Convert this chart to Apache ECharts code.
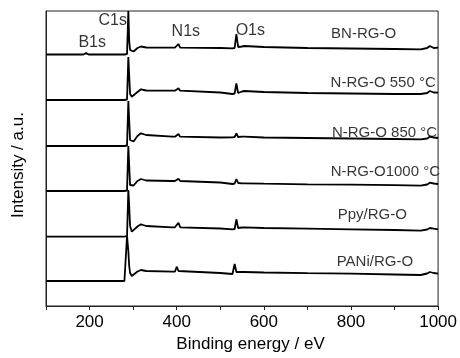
<!DOCTYPE html>
<html>
<head>
<meta charset="utf-8">
<script src="https://cdn.jsdelivr.net/npm/echarts@6/dist/echarts.min.js"></script>
<style>
  html, body { margin: 0; padding: 0; background: #fff; }
  #chart { width: 460px; height: 358px; }
</style>
</head>
<body>
<div id="chart"></div>
<script>
// binding energy grid (eV), shared by all spectra
var energy = [100, 186, 192, 198, 280, 283, 286, 289, 291, 293, 297, 301, 310, 318, 330, 390, 396, 400, 404, 408,
              500, 528, 533, 537, 541, 550, 555, 600, 700, 800, 900, 960, 975, 981, 990, 1000];

// intensities (a.u., stacked as plotted)
var bnRgo = [251.5, 251.5, 253, 251.5, 251.5, 251.5, 252, 295, 265, 256, 254, 254.5, 258, 259.5, 258.5, 258.3, 258.3, 258.3, 262, 258.3,
             258, 257.7, 258, 272, 259, 259.5, 260, 259, 258, 257.5, 257, 256.7, 258, 260, 258, 258.3];
var nRgo550 = [206, 206, 206, 206, 206, 206, 206.5, 249, 230, 212, 209.3, 209.5, 214, 216.7, 215.5, 215.3, 215.3, 215.3, 217.7, 215.3,
               213.5, 212, 212.5, 222.7, 213, 214.5, 215, 214, 213, 212.5, 212, 212, 213, 215, 213.5, 213.3];
var nRgo850 = [160, 160, 160, 160, 160, 160, 160.5, 205, 185, 166, 164.3, 164.5, 170, 172.7, 171, 169.3, 169.3, 169.3, 172, 169.3,
               168.5, 168.7, 169, 172.7, 169, 169.3, 169.3, 168.5, 168, 167.5, 167, 166.7, 167.5, 169.3, 168.5, 168];
var nRgo1000 = [115, 115, 115, 115, 115, 115, 115.5, 160, 140, 121, 120, 120.5, 125, 127, 125.5, 125, 125, 125, 127.3, 125,
                123.5, 122, 122.5, 127, 123, 122.7, 122.7, 122.3, 121.7, 121.3, 120.8, 120.3, 121.5, 123.3, 122.5, 122];
var ppyRgo = [69.3, 69.3, 69.3, 69.3, 69.3, 69.3, 70, 116, 100, 80, 74.3, 75, 79.5, 81.7, 80, 78.7, 78.7, 78.7, 83.3, 78.7,
              77.5, 76.7, 77, 86.7, 78, 78.5, 78.7, 78, 77.3, 76.7, 76, 75.3, 76.5, 78, 77.3, 76.7];
var paniRgo = [25, 25, 25, 25, 25, 25.5, 70, 55, 40, 33, 30, 30.5, 34.5, 36, 35, 34.3, 34.3, 39.3, 35, 34.3,
               33, 32, 42, 34, 33.5, 34, 34, 33.5, 32.8, 32.3, 31.5, 31, 32.5, 34, 33, 32.3];

var spectra = [bnRgo, nRgo550, nRgo850, nRgo1000, ppyRgo, paniRgo];
var sampleNames = ['BN-RG-O', 'N-RG-O 550 °C', 'N-RG-O 850 °C', 'N-RG-O1000 °C', 'Ppy/RG-O', 'PANi/RG-O'];

// peak annotations and sample names, placed in data units (eV, a.u.)
var peakTexts = ['C1s', 'B1s', 'N1s', 'O1s'];
var peakEnergy = [253, 206, 421, 569];
var peakIntensity = [285, 263, 274, 275];
var nameEnergy = [829, 874, 877, 879, 849, 855];
var nameIntensity = [272, 223, 173, 134, 91, 44];

var xTicks = [200, 400, 600, 800, 1000];

var font = 'Liberation Sans, Arial, sans-serif';
var chart = echarts.init(document.getElementById('chart'));

var series = spectra.map(function (vals, i) {
  return {
    name: sampleNames[i],
    type: 'line',
    data: energy.map(function (e, j) { return [e, vals[j]]; }),
    showSymbol: false,
    symbol: 'none',
    lineStyle: { color: '#000', width: 1.8 },
    z: 2
  };
});

function textSeries(texts, xs, ys, size) {
  return {
    type: 'scatter',
    symbolSize: 1,
    itemStyle: { color: 'rgba(0,0,0,0)' },
    data: texts.map(function (t, i) { return [xs[i], ys[i], t]; }),
    label: {
      show: true,
      position: 'inside',
      formatter: function (p) { return p.data[2]; },
      color: '#000',
      fontFamily: font,
      fontSize: size
    },
    z: 5
  };
}
series.push(textSeries(peakTexts, peakEnergy, peakIntensity, 16));
series.push(textSeries(sampleNames, nameEnergy, nameIntensity, 15));

chart.setOption({
  animation: false,
  backgroundColor: '#fff',
  grid: {
    left: 46, right: 19, top: 11, bottom: 52,
    show: true, borderColor: '#222', borderWidth: 1
  },
  xAxis: {
    type: 'value',
    min: 100, max: 1000, interval: 100,
    name: 'Binding energy / eV',
    nameLocation: 'middle',
    nameGap: 27,
    nameTextStyle: { fontFamily: font, fontSize: 17, color: '#000', padding: [0, 0, 0, 17] },
    axisLine: { lineStyle: { color: '#222', width: 1 } },
    axisTick: { inside: false, length: 4, lineStyle: { color: '#222' } },
    axisLabel: {
      fontFamily: font, fontSize: 17, color: '#000', margin: 8,
      formatter: function (v) { return xTicks.indexOf(v) >= 0 ? String(v) : ''; }
    },
    splitLine: { show: false }
  },
  yAxis: {
    type: 'value',
    min: 0, max: 295,
    name: 'Intensity / a.u.',
    nameLocation: 'middle',
    nameGap: 19,
    nameTextStyle: { fontFamily: font, fontSize: 17, color: '#000', padding: [0, 13, 0, 0] },
    axisLine: { show: true, lineStyle: { color: '#222', width: 1 } },
    axisTick: { show: false },
    axisLabel: { show: false },
    splitLine: { show: false }
  },
  series: series
});
</script>
</body>
</html>
